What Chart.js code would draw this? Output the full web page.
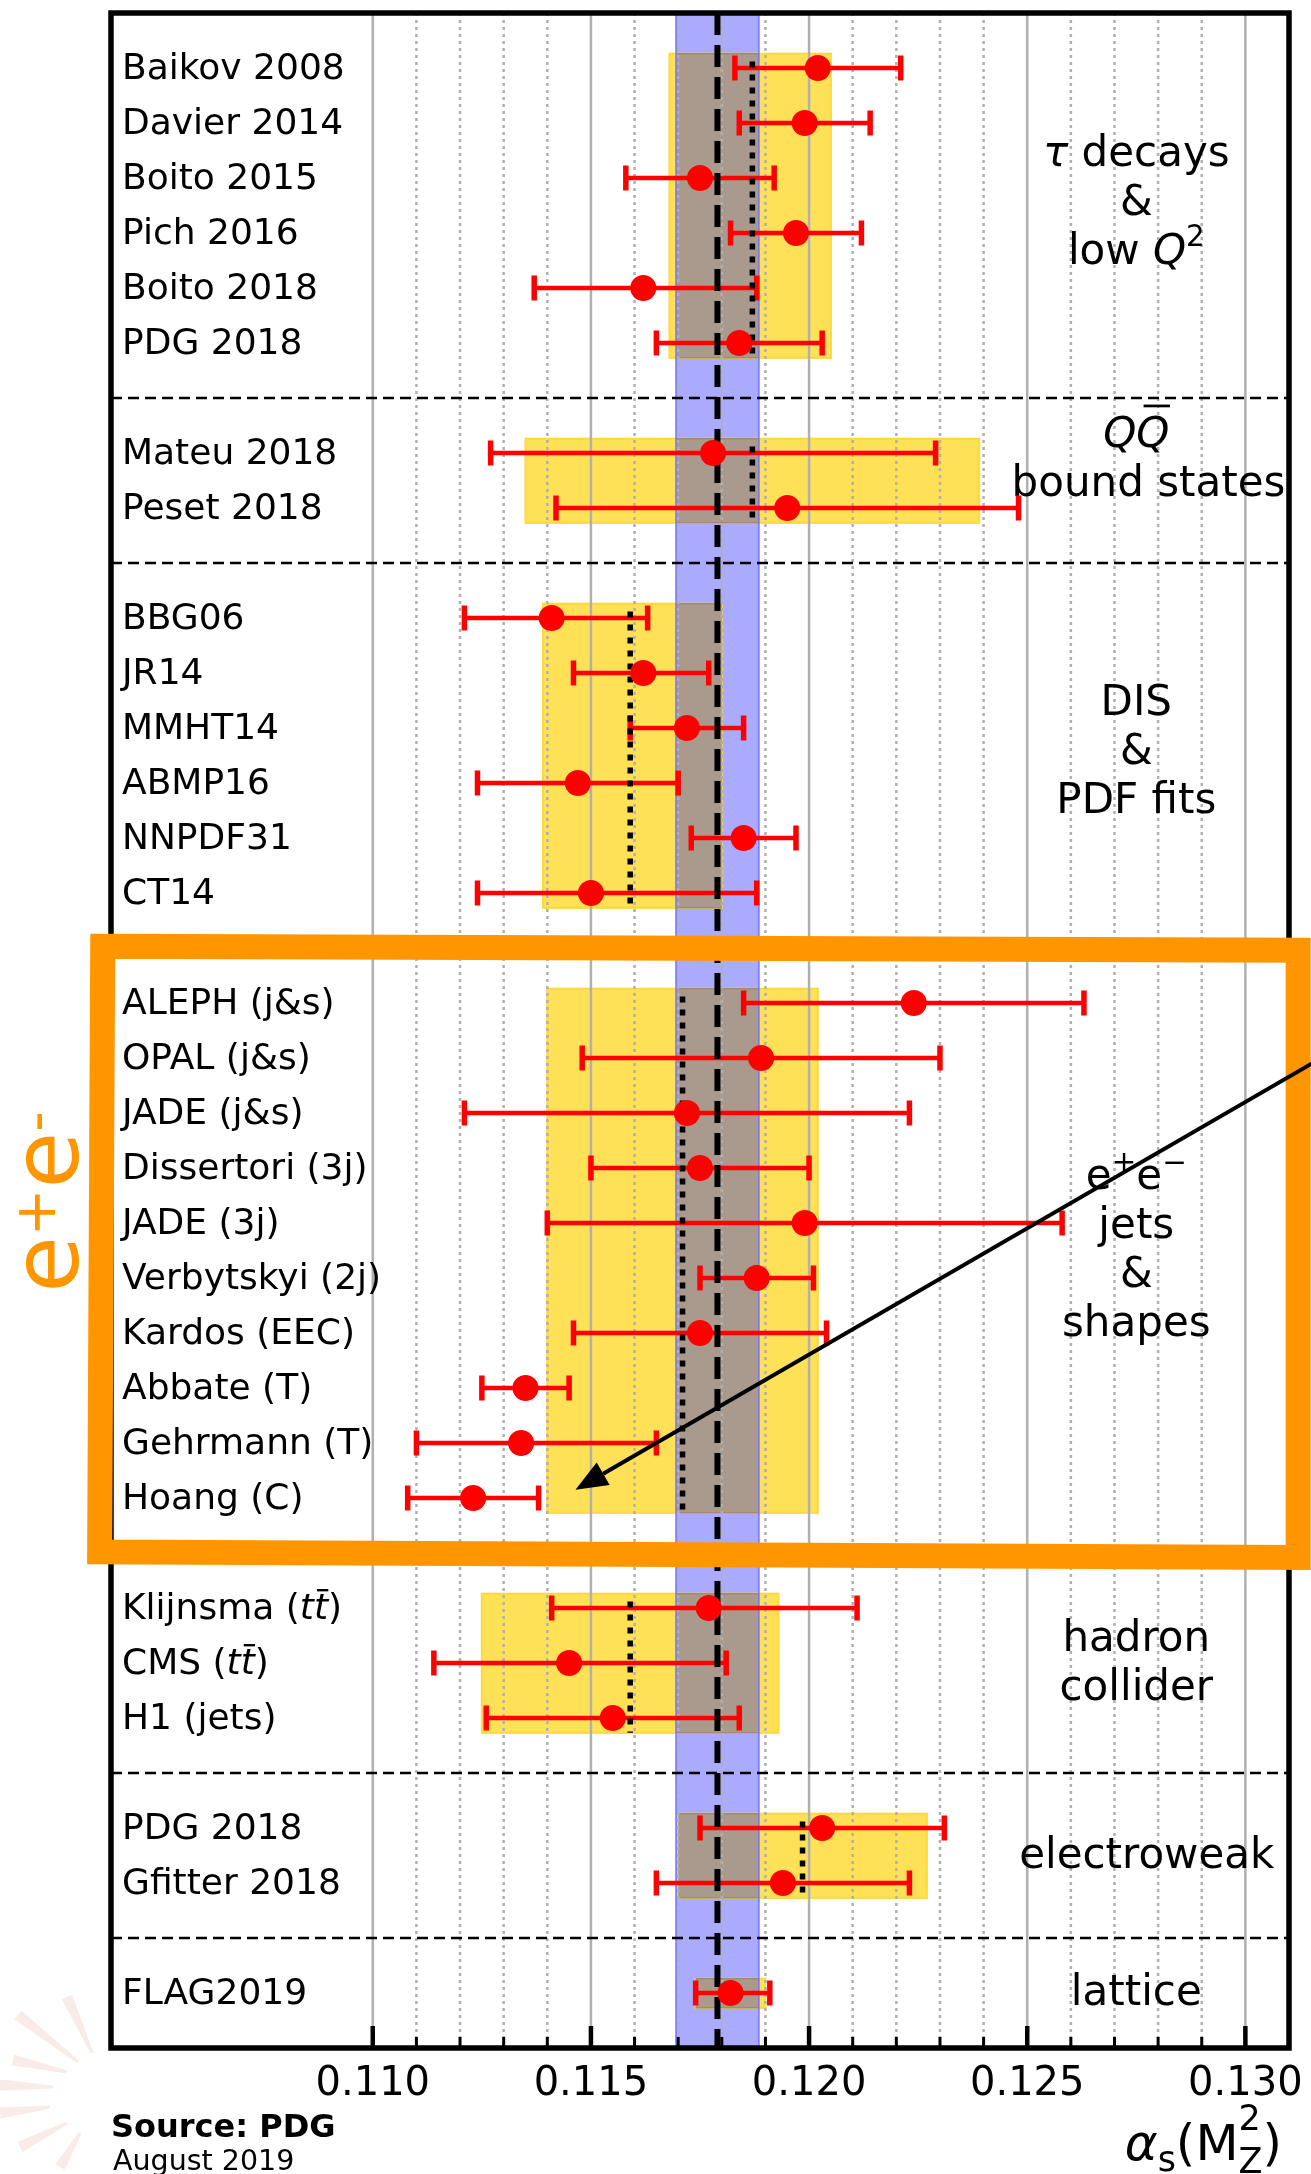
<!DOCTYPE html>
<html>
<head>
<meta charset="utf-8">
<script src="https://cdn.jsdelivr.net/npm/chart.js@4/dist/chart.umd.min.js"></script>
<style>
html,body{margin:0;padding:0;background:#fff;}
canvas{display:block;}
</style>
</head>
<body>
<canvas id="c" width="1311" height="2174"></canvas>
<script>
// ---------------- DATA ----------------
const groupSizes = [6, 2, 6, 10, 3, 2, 1];

const measLabels = [
  'Baikov 2008', 'Davier 2014', 'Boito 2015', 'Pich 2016', 'Boito 2018', 'PDG 2018',
  'Mateu 2018', 'Peset 2018',
  'BBG06', 'JR14', 'MMHT14', 'ABMP16', 'NNPDF31', 'CT14',
  'ALEPH (j&s)', 'OPAL (j&s)', 'JADE (j&s)', 'Dissertori (3j)', 'JADE (3j)',
  'Verbytskyi (2j)', 'Kardos (EEC)', 'Abbate (T)', 'Gehrmann (T)', 'Hoang (C)',
  [{t: 'Klijnsma ('}, {t: 't', it: true}, {t: 't', it: true, bar: 0.8}, {t: ')'}],
  [{t: 'CMS ('}, {t: 't', it: true}, {t: 't', it: true, bar: 0.8}, {t: ')'}],
  'H1 (jets)',
  'PDG 2018', 'Gfitter 2018',
  'FLAG2019'
];

const measValue = [
  0.1202, 0.1199, 0.1175, 0.1197, 0.1162, 0.1184,
  0.1178, 0.1195,
  0.1141, 0.1162, 0.1172, 0.1147, 0.1185, 0.1150,
  0.1224, 0.1189, 0.1172, 0.1175, 0.1199, 0.1188, 0.1175, 0.1135, 0.1134, 0.1123,
  0.1177, 0.1145, 0.1155,
  0.1203, 0.1194,
  0.1182
];
const measLow = [
  0.1183, 0.1184, 0.1158, 0.1182, 0.1137, 0.1165,
  0.1127, 0.1142,
  0.1121, 0.1146, 0.1159, 0.1124, 0.1173, 0.1124,
  0.1185, 0.1148, 0.1121, 0.1150, 0.1140, 0.1175, 0.1146, 0.1125, 0.1110, 0.1108,
  0.1141, 0.1114, 0.1126,
  0.1175, 0.1165,
  0.1174
];
const measHigh = [
  0.1221, 0.1214, 0.1192, 0.1212, 0.1188, 0.1203,
  0.1229, 0.1248,
  0.1163, 0.1177, 0.1185, 0.1170, 0.1197, 0.1188,
  0.1263, 0.1230, 0.1223, 0.1200, 0.1258, 0.1201, 0.1204, 0.1145, 0.1165, 0.1138,
  0.1211, 0.1181, 0.1184,
  0.1231, 0.1223,
  0.1191
];

const groupAvg  = [0.1187, 0.1187, 0.1159, 0.1171, 0.1159, 0.11985, 0.1182];
const groupLow  = [0.1168, 0.1135, 0.1139, 0.1140, 0.1125, 0.1170, 0.1174];
const groupHigh = [0.1205, 0.1239, 0.1180, 0.1202, 0.1193, 0.1227, 0.1190];

const worldAvg = 0.1179;
const worldLow = 0.11695;
const worldHigh = 0.11885;

const groupTitles = [
  [[{t: 'τ', it: true}, {t: ' decays'}], [{t: '&'}], [{t: 'low '}, {t: 'Q', it: true}, {t: '2', sup: true}]],
  [[{t: 'Q', it: true}, {t: 'Q', it: true, bar: 0.97}], [{t: 'bound states'}]],
  [[{t: 'DIS'}], [{t: '&'}], [{t: 'PDF fits'}]],
  [[{t: 'e'}, {t: '+', sup: true}, {t: 'e'}, {t: '−', sup: true}], [{t: 'jets'}], [{t: '&'}], [{t: 'shapes'}]],
  [[{t: 'hadron'}], [{t: 'collider'}]],
  [[{t: 'electroweak'}]],
  [[{t: 'lattice'}]]
];

const majorTicks = [0.110, 0.115, 0.120, 0.125, 0.130];
const minorTicks = [0.111, 0.112, 0.113, 0.114, 0.116, 0.117, 0.118, 0.119,
                    0.121, 0.122, 0.123, 0.124, 0.126, 0.127, 0.128, 0.129];

const axisTitle = [{t: 'α', it: true}, {t: 's', sub: true}, {t: '('}, {t: 'M'},
                   {t: '2', sup: true, stack: true, raise: 0.6}, {t: 'Z', sub: true, lower: 0.26}, {t: ')'}];
const sideLabel = [{t: 'e'}, {t: '+', sup: true}, {t: 'e'}, {t: '-', sup: true}];
const sourceText = 'Source: PDG';
const dateText = 'August 2019';

// ---------------- LAYOUT (rows derived from group structure) ----------------
const rowOf = [], groupStart = [], groupEnd = [], separators = [];
(function () {
  let r = 1;
  groupSizes.forEach((n, g) => {
    groupStart.push(r);
    for (let j = 0; j < n; j++) rowOf.push(r + j);
    groupEnd.push(r + n - 1);
    r += n;
    if (g < groupSizes.length - 1) separators.push(r);
    r += 1;
  });
})();
const yMax = rowOf[rowOf.length - 1] + 1;

const titleX = 0.1275;
const titleXOverride = {'1,1': 0.12778, '5,0': 0.12774};
const titleShift = [-0.05, -0.39, -0.06, 0, 0, 0, 0];
const titleSpacing = 0.89;

const FAM = '"DejaVu Sans"';
const font = (s, it, b) => `${it ? 'italic ' : ''}${b ? 'bold ' : ''}${s}px ${FAM}`;

function drawRich(ctx, segs, x, y, size, align, opt) {
  opt = opt || {};
  const sc = opt.supScale || 0.7;
  const items = segs.map(s => {
    const fs = (s.sup || s.sub) ? size * sc : size;
    ctx.font = font(fs, s.it, s.b);
    return {s, fs, w: ctx.measureText(s.t).width};
  });
  const total = items.reduce((a, it) => a + (it.s.stack ? 0 : it.w), 0);
  let cx = align === 'center' ? x - total / 2 : align === 'right' ? x - total : x;
  ctx.textAlign = 'left';
  ctx.textBaseline = 'alphabetic';
  for (const it of items) {
    const s = it.s;
    ctx.font = font(it.fs, s.it, s.b);
    let dy = 0;
    if (s.sup) dy = -size * (s.raise !== undefined ? s.raise : (opt.supRaise !== undefined ? opt.supRaise : 0.42));
    if (s.sub) dy = size * (s.lower !== undefined ? s.lower : (opt.subLower !== undefined ? opt.subLower : 0.2));
    ctx.fillText(s.t, cx, y + dy);
    if (s.bar) {
      const by = y + dy - it.fs * s.bar;
      ctx.save();
      ctx.strokeStyle = ctx.fillStyle;
      ctx.lineWidth = Math.max(2, it.fs * 0.065);
      ctx.setLineDash([]);
      ctx.beginPath();
      ctx.moveTo(cx + it.w * 0.22, by);
      ctx.lineTo(cx + it.w * 1.02, by);
      ctx.stroke();
      ctx.restore();
    }
    if (!s.stack) cx += it.w;
  }
}

function vline(ctx, x, y0, y1) { ctx.beginPath(); ctx.moveTo(x, y0); ctx.lineTo(x, y1); ctx.stroke(); }
function hline(ctx, y, x0, x1) { ctx.beginPath(); ctx.moveTo(x0, y); ctx.lineTo(x1, y); ctx.stroke(); }

const decorPlugin = {
  id: 'decor',
  beforeDraw(chart) {
    const ctx = chart.ctx;
    ctx.save();
    // faint logo rays in the bottom-left corner (watermark)
    const rays = [[92,2053,67,1997],[78,2062,18,2015],[67,2072,13,2060],[53,2087,0,2085],
                  [50,2107,0,2113],[67,2123,20,2147],[80,2133,60,2167]];
    ctx.fillStyle = 'rgba(226,170,160,0.24)';
    rays.forEach(([x0,y0,x1,y1]) => {
      const dx = x1 - x0, dy = y1 - y0, L = Math.hypot(dx, dy);
      const nx = -dy / L, ny = dx / L;
      ctx.beginPath();
      ctx.moveTo(x0 + nx * 1.5, y0 + ny * 1.5);
      ctx.lineTo(x1 + nx * 5.5, y1 + ny * 5.5);
      ctx.lineTo(x1 - nx * 5.5, y1 - ny * 5.5);
      ctx.lineTo(x0 - nx * 1.5, y0 - ny * 1.5);
      ctx.closePath();
      ctx.fill();
    });
    ctx.restore();
  },
  beforeDatasetsDraw(chart) {
    const {ctx, chartArea: a, scales: {x, y}} = chart;
    ctx.save();
    // world average band
    const bx0 = x.getPixelForValue(worldLow), bx1 = x.getPixelForValue(worldHigh);
    ctx.fillStyle = '#aaaaff';
    ctx.fillRect(bx0, a.top, bx1 - bx0, a.bottom - a.top);
    // group bands
    groupSizes.forEach((n, g) => {
      const yt = y.getPixelForValue(groupStart[g] - 0.26), yb = y.getPixelForValue(groupEnd[g] + 0.27);
      const gx0 = x.getPixelForValue(groupLow[g]), gx1 = x.getPixelForValue(groupHigh[g]);
      ctx.fillStyle = '#ffe157';
      ctx.fillRect(gx0, yt, gx1 - gx0, yb - yt);
      ctx.strokeStyle = '#ffd83a';
      ctx.lineWidth = 2;
      ctx.strokeRect(gx0, yt, gx1 - gx0, yb - yt);
      const ox0 = Math.max(gx0, bx0), ox1 = Math.min(gx1, bx1);
      if (ox1 > ox0) {
        ctx.fillStyle = '#a99a8d';
        ctx.fillRect(ox0, yt, ox1 - ox0, yb - yt);
        ctx.strokeStyle = '#a08c6c';
        ctx.lineWidth = 1.5;
        hline(ctx, yt, ox0, ox1); hline(ctx, yb, ox0, ox1);
      }
    });
    ctx.strokeStyle = '#7373ff';
    ctx.lineWidth = 1.5;
    vline(ctx, bx0, a.top, a.bottom);
    vline(ctx, bx1, a.top, a.bottom);
    // grid lines
    ctx.strokeStyle = '#b0b0b0';
    ctx.lineWidth = 2.5;
    majorTicks.forEach(v => vline(ctx, x.getPixelForValue(v), a.top, a.bottom));
    ctx.setLineDash([3, 4]);
    minorTicks.forEach(v => vline(ctx, x.getPixelForValue(v), a.top, a.bottom));
    // group separators
    ctx.strokeStyle = '#000';
    ctx.lineWidth = 2.5;
    ctx.setLineDash([11, 6]);
    separators.forEach(r => hline(ctx, y.getPixelForValue(r), a.left, a.right));
    ctx.setLineDash([]);
    // group titles
    ctx.fillStyle = '#000';
    groupTitles.forEach((lines, g) => {
      const center = (groupStart[g] + groupEnd[g]) / 2 + titleShift[g];
      lines.forEach((segs, i) => {
        const row = center + (i - (lines.length - 1) / 2) * titleSpacing + 0.22;
        const xv = titleXOverride[g + ',' + i] !== undefined ? titleXOverride[g + ',' + i] : titleX;
        ctx.save();
        ctx.beginPath();
        ctx.rect(a.left, a.top, a.right - a.left, a.bottom - a.top);
        ctx.clip();
        drawRich(ctx, segs, x.getPixelForValue(xv), y.getPixelForValue(row), 42, 'center');
        ctx.restore();
      });
    });
    // error bars
    ctx.strokeStyle = '#ff0000';
    measValue.forEach((v, i) => {
      const py = y.getPixelForValue(rowOf[i]);
      const lx = x.getPixelForValue(measLow[i]), hx = x.getPixelForValue(measHigh[i]);
      ctx.lineWidth = 4.5;
      hline(ctx, py, lx, hx);
      ctx.lineWidth = 5.5;
      vline(ctx, lx, py - 12.5, py + 12.5);
      vline(ctx, hx, py - 12.5, py + 12.5);
    });
    // group averages (dotted)
    ctx.strokeStyle = '#000';
    ctx.lineWidth = 5.5;
    ctx.setLineDash([6, 7]);
    groupSizes.forEach((n, g) => {
      if (n < 2) return;
      vline(ctx, x.getPixelForValue(groupAvg[g]), y.getPixelForValue(groupStart[g] - 0.12), y.getPixelForValue(groupEnd[g] + 0.27));
    });
    // world average (dashed)
    ctx.lineWidth = 6;
    ctx.setLineDash([22, 10]);
    vline(ctx, x.getPixelForValue(worldAvg), a.top, a.bottom);
    ctx.restore();
  },
  afterDatasetsDraw(chart) {
    const {ctx, chartArea: a, scales: {x, y}} = chart;
    ctx.save();
    // frame
    ctx.strokeStyle = '#000';
    ctx.lineWidth = 5.5;
    ctx.setLineDash([]);
    ctx.strokeRect(a.left, a.top, a.right - a.left, a.bottom - a.top);
    // inward ticks
    ctx.lineWidth = 4.5;
    majorTicks.forEach(v => vline(ctx, x.getPixelForValue(v), a.bottom, a.bottom - 22));
    ctx.lineWidth = 3;
    minorTicks.forEach(v => vline(ctx, x.getPixelForValue(v), a.bottom, a.bottom - 11));
    // row labels
    ctx.fillStyle = '#000';
    measLabels.forEach((lab, i) => {
      const segs = typeof lab === 'string' ? [{t: lab}] : lab;
      drawRich(ctx, segs, a.left + 11, y.getPixelForValue(rowOf[i]) + 11, 36, 'left');
    });
    // orange highlight box around the e+e- group
    const eg = 3;
    const topR = separators[eg - 1], botR = separators[eg];
    ctx.strokeStyle = '#ff9600';
    ctx.lineWidth = 25;
    ctx.lineJoin = 'miter';
    ctx.beginPath();
    ctx.moveTo(x.getPixelForValue(0.10381), y.getPixelForValue(topR - 0.03));
    ctx.lineTo(x.getPixelForValue(0.13121), y.getPixelForValue(topR + 0.04));
    ctx.lineTo(x.getPixelForValue(0.13121), y.getPixelForValue(botR + 0.08));
    ctx.lineTo(x.getPixelForValue(0.10374), y.getPixelForValue(botR - 0.02));
    ctx.closePath();
    ctx.stroke();
    // side label e+e-
    ctx.fillStyle = '#ff9600';
    ctx.save();
    ctx.translate(x.getPixelForValue(0.103244), y.getPixelForValue(23.27));
    ctx.rotate(-Math.PI / 2);
    drawRich(ctx, sideLabel, 0, 0, 92, 'left', {supScale: 0.62, supRaise: 0.245});
    ctx.restore();
    // arrow
    const tx = x.getPixelForValue(0.114646), ty = y.getPixelForValue(26.85);
    const sx = x.getPixelForValue(0.13194), sy = y.getPixelForValue(18.91);
    const ang = Math.atan2(ty - sy, tx - sx);
    const hl = 32, hw = 13;
    const bxp = tx - hl * Math.cos(ang), byp = ty - hl * Math.sin(ang);
    ctx.strokeStyle = '#000';
    ctx.fillStyle = '#000';
    ctx.lineWidth = 4;
    ctx.beginPath(); ctx.moveTo(sx, sy); ctx.lineTo(bxp, byp); ctx.stroke();
    ctx.beginPath();
    ctx.moveTo(tx, ty);
    ctx.lineTo(bxp + hw * Math.sin(ang), byp - hw * Math.cos(ang));
    ctx.lineTo(bxp - hw * Math.sin(ang), byp + hw * Math.cos(ang));
    ctx.closePath();
    ctx.fill();
    // axis title
    ctx.fillStyle = '#000';
    drawRich(ctx, axisTitle, a.right - 7, 2160, 50, 'right', {subLower: 0.22});
    // source
    ctx.textAlign = 'left';
    ctx.font = font(32, false, true);
    ctx.fillText(sourceText, a.left, 2137);
    ctx.font = font(28.5, false, false);
    ctx.fillText(dateText, a.left + 2, 2170);
    ctx.restore();
  }
};

new Chart(document.getElementById('c').getContext('2d'), {
  type: 'scatter',
  data: {
    datasets: [{
      label: 'alpha_s',
      data: measValue.map((v, i) => ({x: v, y: rowOf[i]})),
      pointRadius: 13,
      pointHoverRadius: 13,
      backgroundColor: '#ff0000',
      borderWidth: 0,
      pointStyle: 'circle'
    }]
  },
  options: {
    responsive: false,
    animation: false,
    devicePixelRatio: 1,
    events: [],
    layout: {padding: {left: 111, right: 22, top: 11, bottom: 0}},
    plugins: {legend: {display: false}, tooltip: {enabled: false}},
    scales: {
      x: {
        type: 'linear', min: 0.104, max: 0.131, position: 'bottom',
        grid: {display: false},
        border: {display: false},
        afterBuildTicks: s => { s.ticks = majorTicks.map(v => ({value: v})); },
        afterFit: s => { s.height = 126; },
        ticks: {
          font: {family: 'DejaVu Sans', size: 40},
          color: '#000', padding: 5, maxRotation: 0, minRotation: 0, autoSkip: false,
          callback: v => Number(v).toFixed(3)
        }
      },
      y: {type: 'linear', min: 0, max: yMax, reverse: true, display: false}
    }
  },
  plugins: [decorPlugin]
});
</script>
</body>
</html>
